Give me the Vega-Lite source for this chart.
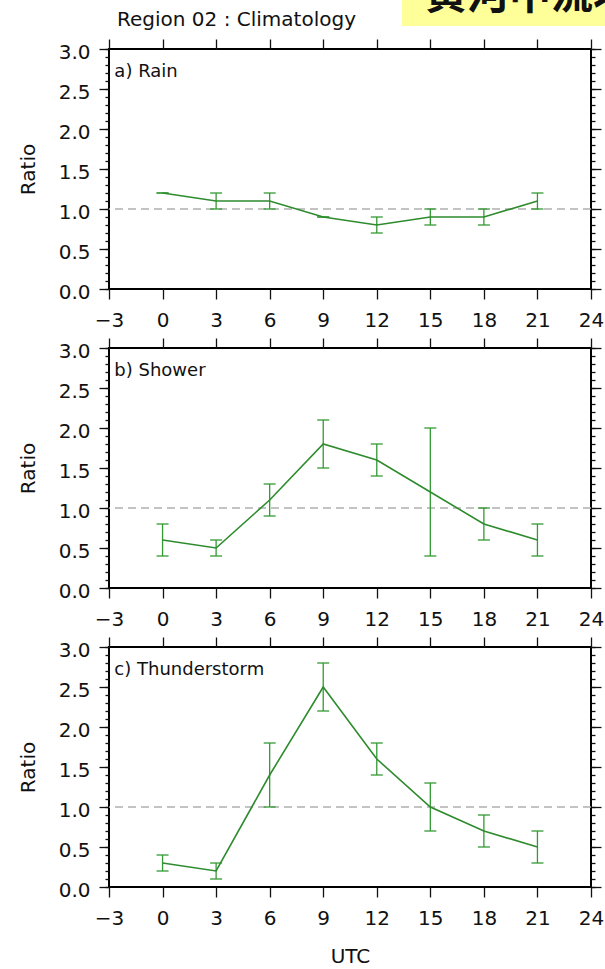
{
  "$schema": "https://vega.github.io/schema/vega-lite/v6.json",
  "autosize": {"type": "pad"},
  "padding": {"left": 17, "top": -27, "right": -30, "bottom": 0},
  "background": "white",
  "datasets": {
    "rain": [
      {"utc": 0, "ratio": 1.2, "lo": 1.2, "hi": 1.2},
      {"utc": 3, "ratio": 1.1, "lo": 1.0, "hi": 1.2},
      {"utc": 6, "ratio": 1.1, "lo": 1.0, "hi": 1.2},
      {"utc": 9, "ratio": 0.9, "lo": 0.9, "hi": 0.9},
      {"utc": 12, "ratio": 0.8, "lo": 0.7, "hi": 0.9},
      {"utc": 15, "ratio": 0.9, "lo": 0.8, "hi": 1.0},
      {"utc": 18, "ratio": 0.9, "lo": 0.8, "hi": 1.0},
      {"utc": 21, "ratio": 1.1, "lo": 1.0, "hi": 1.2}
    ],
    "shower": [
      {"utc": 0, "ratio": 0.6, "lo": 0.4, "hi": 0.8},
      {"utc": 3, "ratio": 0.5, "lo": 0.4, "hi": 0.6},
      {"utc": 6, "ratio": 1.1, "lo": 0.9, "hi": 1.3},
      {"utc": 9, "ratio": 1.8, "lo": 1.5, "hi": 2.1},
      {"utc": 12, "ratio": 1.6, "lo": 1.4, "hi": 1.8},
      {"utc": 15, "ratio": 1.2, "lo": 0.4, "hi": 2.0},
      {"utc": 18, "ratio": 0.8, "lo": 0.6, "hi": 1.0},
      {"utc": 21, "ratio": 0.6, "lo": 0.4, "hi": 0.8}
    ],
    "thunderstorm": [
      {"utc": 0, "ratio": 0.3, "lo": 0.2, "hi": 0.4},
      {"utc": 3, "ratio": 0.2, "lo": 0.1, "hi": 0.3},
      {"utc": 6, "ratio": 1.4, "lo": 1.0, "hi": 1.8},
      {"utc": 9, "ratio": 2.5, "lo": 2.2, "hi": 2.8},
      {"utc": 12, "ratio": 1.6, "lo": 1.4, "hi": 1.8},
      {"utc": 15, "ratio": 1.0, "lo": 0.7, "hi": 1.3},
      {"utc": 18, "ratio": 0.7, "lo": 0.5, "hi": 0.9},
      {"utc": 21, "ratio": 0.5, "lo": 0.3, "hi": 0.7}
    ]
  },
  "vconcat": [
    {
      "width": 482, "height": 240,
      "layer": [
        {"data": {"values": [{"box": "header"}]}, "mark": {"type": "rect", "color": "#ffff99"},
         "encoding": {"x": {"datum": 13.41, "type": "quantitative", "scale": {"domain": [-3, 24], "nice": false, "zero": false}, "axis": null}, "x2": {"datum": 24.8},
                      "y": {"datum": 3.2875, "type": "quantitative", "scale": {"domain": [0, 3], "nice": false, "zero": false}, "axis": null}, "y2": {"datum": 3.65}}},
        {"data": {"values": [{"label": "黄河中流域"}]}, "mark": {"type": "text", "font": "Noto Sans CJK SC", "fontSize": 42, "fontWeight": "bold", "align": "left", "baseline": "alphabetic", "color": "#111"},
         "encoding": {"x": {"datum": 14.7, "type": "quantitative", "scale": {"domain": [-3, 24], "nice": false, "zero": false}, "axis": null},
                      "y": {"datum": 3.5, "type": "quantitative", "scale": {"domain": [0, 3], "nice": false, "zero": false}, "axis": null}, "text": {"field": "label"}}},
        {"data": {"values": [{"label": "Region 02 : Climatology"}]}, "mark": {"type": "text", "font": "DejaVu Sans", "fontSize": 20, "align": "left", "baseline": "alphabetic", "color": "#111"},
         "encoding": {"x": {"datum": -2.55, "type": "quantitative", "scale": {"domain": [-3, 24], "nice": false, "zero": false}, "axis": null},
                      "y": {"datum": 3.2875, "type": "quantitative", "scale": {"domain": [0, 3], "nice": false, "zero": false}, "axis": null}, "text": {"field": "label"}}},
        {"data": {"values": [{"ref": 1}]}, "mark": {"type": "rule", "color": "#b0b0b0", "strokeDash": [8, 5], "strokeWidth": 1.5},
         "encoding": {"y": {"field": "ref", "type": "quantitative", "scale": {"domain": [0, 3], "nice": false, "zero": false}, "axis": null}}},
        {"data": {"name": "rain"}, "mark": {"type": "rule", "color": "#339933", "strokeWidth": 1.3},
         "encoding": {"x": {"field": "utc", "type": "quantitative", "scale": {"domain": [-3, 24], "nice": false, "zero": false}, "axis": {"orient": "top", "values": [-3, 0, 3, 6, 9, 12, 15, 18, 21, 24], "tickSize": 10, "labels": false, "title": null}},
                      "y": {"field": "lo", "type": "quantitative", "scale": {"domain": [0, 3], "nice": false, "zero": false}, "axis": {"orient": "right", "values": [0, 0.5, 1, 1.5, 2, 2.5, 3], "tickSize": 10, "labels": false, "title": null}},
                      "y2": {"field": "hi"}}},
        {"data": {"name": "rain"}, "mark": {"type": "tick", "orient": "horizontal", "size": 12, "thickness": 1.3, "color": "#339933", "opacity": 1},
         "encoding": {"x": {"field": "utc", "type": "quantitative", "scale": {"domain": [-3, 24], "nice": false, "zero": false}, "axis": null},
                      "y": {"field": "lo", "type": "quantitative", "scale": {"domain": [0, 3], "nice": false, "zero": false}, "axis": {"orient": "left", "values": [0, 0.1, 0.2, 0.3, 0.4, 0.5, 0.6, 0.7, 0.8, 0.9, 1, 1.1, 1.2, 1.3, 1.4, 1.5, 1.6, 1.7, 1.8, 1.9, 2, 2.1, 2.2, 2.3, 2.4, 2.5, 2.6, 2.7, 2.8, 2.9, 3], "tickSize": 4, "labels": false, "title": null}}}},
        {"data": {"name": "rain"}, "mark": {"type": "tick", "orient": "horizontal", "size": 12, "thickness": 1.3, "color": "#339933", "opacity": 1},
         "encoding": {"x": {"field": "utc", "type": "quantitative", "scale": {"domain": [-3, 24], "nice": false, "zero": false}, "axis": null},
                      "y": {"field": "hi", "type": "quantitative", "scale": {"domain": [0, 3], "nice": false, "zero": false}, "axis": {"orient": "right", "values": [0, 0.1, 0.2, 0.3, 0.4, 0.5, 0.6, 0.7, 0.8, 0.9, 1, 1.1, 1.2, 1.3, 1.4, 1.5, 1.6, 1.7, 1.8, 1.9, 2, 2.1, 2.2, 2.3, 2.4, 2.5, 2.6, 2.7, 2.8, 2.9, 3], "tickSize": 4, "labels": false, "title": null}}}},
        {"data": {"name": "rain"}, "mark": {"type": "line", "color": "#2e8b2e", "strokeWidth": 1.6},
         "encoding": {"x": {"field": "utc", "type": "quantitative", "scale": {"domain": [-3, 24], "nice": false, "zero": false}, "axis": {"orient": "bottom", "values": [-3, 0, 3, 6, 9, 12, 15, 18, 21, 24], "tickSize": 10, "labelPadding": 11, "labelFlush": false, "labelOverlap": false, "title": null}},
                      "y": {"field": "ratio", "type": "quantitative", "scale": {"domain": [0, 3], "nice": false, "zero": false}, "axis": {"orient": "left", "values": [0, 0.5, 1, 1.5, 2, 2.5, 3], "format": ".1f", "tickSize": 10, "labelPadding": 9, "labelOffset": 3, "labelFlush": false, "labelOverlap": false, "title": "Ratio", "titlePadding": 20}}}},
        {"data": {"values": [{"label": "a) Rain"}]}, "mark": {"type": "text", "font": "DejaVu Sans", "fontSize": 18, "align": "left", "baseline": "alphabetic", "color": "#111"},
         "encoding": {"x": {"datum": -2.7, "type": "quantitative", "scale": {"domain": [-3, 24], "nice": false, "zero": false}, "axis": null},
                      "y": {"datum": 2.65, "type": "quantitative", "scale": {"domain": [0, 3], "nice": false, "zero": false}, "axis": null}, "text": {"field": "label"}}}
      ],
      "resolve": {"axis": {"x": "independent", "y": "independent"}}
    },
    {
      "width": 482, "height": 240,
      "layer": [
        {"data": {"values": [{"ref": 1}]}, "mark": {"type": "rule", "color": "#b0b0b0", "strokeDash": [8, 5], "strokeWidth": 1.5},
         "encoding": {"y": {"field": "ref", "type": "quantitative", "scale": {"domain": [0, 3], "nice": false, "zero": false}, "axis": null}}},
        {"data": {"name": "shower"}, "mark": {"type": "rule", "color": "#339933", "strokeWidth": 1.3},
         "encoding": {"x": {"field": "utc", "type": "quantitative", "scale": {"domain": [-3, 24], "nice": false, "zero": false}, "axis": {"orient": "top", "values": [-3, 0, 3, 6, 9, 12, 15, 18, 21, 24], "tickSize": 10, "labels": false, "title": null}},
                      "y": {"field": "lo", "type": "quantitative", "scale": {"domain": [0, 3], "nice": false, "zero": false}, "axis": {"orient": "right", "values": [0, 0.5, 1, 1.5, 2, 2.5, 3], "tickSize": 10, "labels": false, "title": null}},
                      "y2": {"field": "hi"}}},
        {"data": {"name": "shower"}, "mark": {"type": "tick", "orient": "horizontal", "size": 12, "thickness": 1.3, "color": "#339933", "opacity": 1},
         "encoding": {"x": {"field": "utc", "type": "quantitative", "scale": {"domain": [-3, 24], "nice": false, "zero": false}, "axis": null},
                      "y": {"field": "lo", "type": "quantitative", "scale": {"domain": [0, 3], "nice": false, "zero": false}, "axis": {"orient": "left", "values": [0, 0.1, 0.2, 0.3, 0.4, 0.5, 0.6, 0.7, 0.8, 0.9, 1, 1.1, 1.2, 1.3, 1.4, 1.5, 1.6, 1.7, 1.8, 1.9, 2, 2.1, 2.2, 2.3, 2.4, 2.5, 2.6, 2.7, 2.8, 2.9, 3], "tickSize": 4, "labels": false, "title": null}}}},
        {"data": {"name": "shower"}, "mark": {"type": "tick", "orient": "horizontal", "size": 12, "thickness": 1.3, "color": "#339933", "opacity": 1},
         "encoding": {"x": {"field": "utc", "type": "quantitative", "scale": {"domain": [-3, 24], "nice": false, "zero": false}, "axis": null},
                      "y": {"field": "hi", "type": "quantitative", "scale": {"domain": [0, 3], "nice": false, "zero": false}, "axis": {"orient": "right", "values": [0, 0.1, 0.2, 0.3, 0.4, 0.5, 0.6, 0.7, 0.8, 0.9, 1, 1.1, 1.2, 1.3, 1.4, 1.5, 1.6, 1.7, 1.8, 1.9, 2, 2.1, 2.2, 2.3, 2.4, 2.5, 2.6, 2.7, 2.8, 2.9, 3], "tickSize": 4, "labels": false, "title": null}}}},
        {"data": {"name": "shower"}, "mark": {"type": "line", "color": "#2e8b2e", "strokeWidth": 1.6},
         "encoding": {"x": {"field": "utc", "type": "quantitative", "scale": {"domain": [-3, 24], "nice": false, "zero": false}, "axis": {"orient": "bottom", "values": [-3, 0, 3, 6, 9, 12, 15, 18, 21, 24], "tickSize": 10, "labelPadding": 11, "labelFlush": false, "labelOverlap": false, "title": null}},
                      "y": {"field": "ratio", "type": "quantitative", "scale": {"domain": [0, 3], "nice": false, "zero": false}, "axis": {"orient": "left", "values": [0, 0.5, 1, 1.5, 2, 2.5, 3], "format": ".1f", "tickSize": 10, "labelPadding": 9, "labelOffset": 3, "labelFlush": false, "labelOverlap": false, "title": "Ratio", "titlePadding": 20}}}},
        {"data": {"values": [{"label": "b) Shower"}]}, "mark": {"type": "text", "font": "DejaVu Sans", "fontSize": 18, "align": "left", "baseline": "alphabetic", "color": "#111"},
         "encoding": {"x": {"datum": -2.7, "type": "quantitative", "scale": {"domain": [-3, 24], "nice": false, "zero": false}, "axis": null},
                      "y": {"datum": 2.65, "type": "quantitative", "scale": {"domain": [0, 3], "nice": false, "zero": false}, "axis": null}, "text": {"field": "label"}}}
      ],
      "resolve": {"axis": {"x": "independent", "y": "independent"}}
    },
    {
      "width": 482, "height": 240,
      "layer": [
        {"data": {"values": [{"ref": 1}]}, "mark": {"type": "rule", "color": "#b0b0b0", "strokeDash": [8, 5], "strokeWidth": 1.5},
         "encoding": {"y": {"field": "ref", "type": "quantitative", "scale": {"domain": [0, 3], "nice": false, "zero": false}, "axis": null}}},
        {"data": {"name": "thunderstorm"}, "mark": {"type": "rule", "color": "#339933", "strokeWidth": 1.3},
         "encoding": {"x": {"field": "utc", "type": "quantitative", "scale": {"domain": [-3, 24], "nice": false, "zero": false}, "axis": {"orient": "top", "values": [-3, 0, 3, 6, 9, 12, 15, 18, 21, 24], "tickSize": 10, "labels": false, "title": null}},
                      "y": {"field": "lo", "type": "quantitative", "scale": {"domain": [0, 3], "nice": false, "zero": false}, "axis": {"orient": "right", "values": [0, 0.5, 1, 1.5, 2, 2.5, 3], "tickSize": 10, "labels": false, "title": null}},
                      "y2": {"field": "hi"}}},
        {"data": {"name": "thunderstorm"}, "mark": {"type": "tick", "orient": "horizontal", "size": 12, "thickness": 1.3, "color": "#339933", "opacity": 1},
         "encoding": {"x": {"field": "utc", "type": "quantitative", "scale": {"domain": [-3, 24], "nice": false, "zero": false}, "axis": null},
                      "y": {"field": "lo", "type": "quantitative", "scale": {"domain": [0, 3], "nice": false, "zero": false}, "axis": {"orient": "left", "values": [0, 0.1, 0.2, 0.3, 0.4, 0.5, 0.6, 0.7, 0.8, 0.9, 1, 1.1, 1.2, 1.3, 1.4, 1.5, 1.6, 1.7, 1.8, 1.9, 2, 2.1, 2.2, 2.3, 2.4, 2.5, 2.6, 2.7, 2.8, 2.9, 3], "tickSize": 4, "labels": false, "title": null}}}},
        {"data": {"name": "thunderstorm"}, "mark": {"type": "tick", "orient": "horizontal", "size": 12, "thickness": 1.3, "color": "#339933", "opacity": 1},
         "encoding": {"x": {"field": "utc", "type": "quantitative", "scale": {"domain": [-3, 24], "nice": false, "zero": false}, "axis": null},
                      "y": {"field": "hi", "type": "quantitative", "scale": {"domain": [0, 3], "nice": false, "zero": false}, "axis": {"orient": "right", "values": [0, 0.1, 0.2, 0.3, 0.4, 0.5, 0.6, 0.7, 0.8, 0.9, 1, 1.1, 1.2, 1.3, 1.4, 1.5, 1.6, 1.7, 1.8, 1.9, 2, 2.1, 2.2, 2.3, 2.4, 2.5, 2.6, 2.7, 2.8, 2.9, 3], "tickSize": 4, "labels": false, "title": null}}}},
        {"data": {"name": "thunderstorm"}, "mark": {"type": "line", "color": "#2e8b2e", "strokeWidth": 1.6},
         "encoding": {"x": {"field": "utc", "type": "quantitative", "scale": {"domain": [-3, 24], "nice": false, "zero": false}, "axis": {"orient": "bottom", "values": [-3, 0, 3, 6, 9, 12, 15, 18, 21, 24], "tickSize": 10, "labelPadding": 11, "labelFlush": false, "labelOverlap": false, "title": "UTC", "titlePadding": 18}},
                      "y": {"field": "ratio", "type": "quantitative", "scale": {"domain": [0, 3], "nice": false, "zero": false}, "axis": {"orient": "left", "values": [0, 0.5, 1, 1.5, 2, 2.5, 3], "format": ".1f", "tickSize": 10, "labelPadding": 9, "labelOffset": 3, "labelFlush": false, "labelOverlap": false, "title": "Ratio", "titlePadding": 20}}}},
        {"data": {"values": [{"label": "c) Thunderstorm"}]}, "mark": {"type": "text", "font": "DejaVu Sans", "fontSize": 18, "align": "left", "baseline": "alphabetic", "color": "#111"},
         "encoding": {"x": {"datum": -2.7, "type": "quantitative", "scale": {"domain": [-3, 24], "nice": false, "zero": false}, "axis": null},
                      "y": {"datum": 2.65, "type": "quantitative", "scale": {"domain": [0, 3], "nice": false, "zero": false}, "axis": null}, "text": {"field": "label"}}}
      ],
      "resolve": {"axis": {"x": "independent", "y": "independent"}}
    }
  ],
  "spacing": 59,
  "bounds": "flush",
  "config": {
    "font": "DejaVu Sans",
    "view": {"stroke": "#000", "strokeWidth": 2},
    "axis": {"grid": false, "domain": false, "tickColor": "#111", "tickWidth": 1.3,
             "labelFont": "DejaVu Sans", "labelFontSize": 20, "labelColor": "#111",
             "titleFont": "DejaVu Sans", "titleFontSize": 20, "titleFontWeight": "normal", "titleColor": "#111"}
  }
}
